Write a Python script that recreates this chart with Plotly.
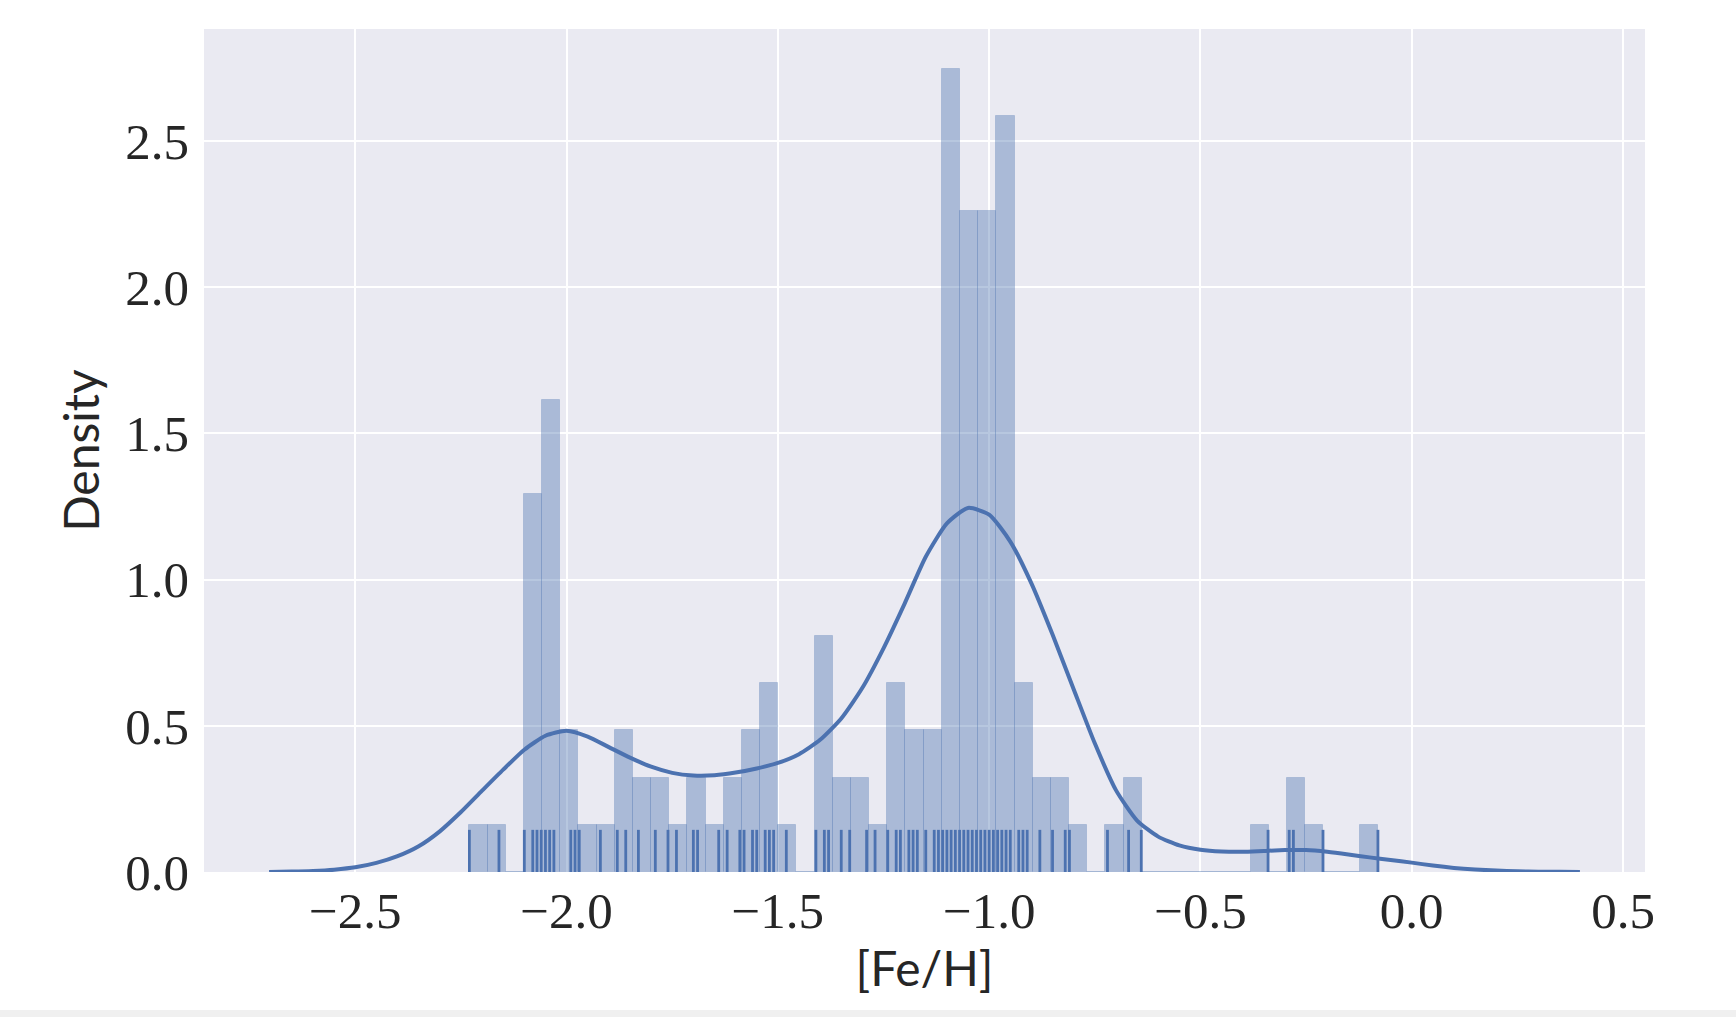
import plotly.graph_objects as go

# ---- data ----
bin_start = -2.23
bin_width = 0.043
n_samples = 144
bin_counts = [1, 1, 0, 8, 10, 3, 1, 1, 3, 2,
              2, 1, 2, 1, 2, 3, 4, 1, 0, 5,
              2, 2, 1, 4, 3, 3, 17, 14, 14, 16,
              4, 2, 2, 1, 0, 1, 2, 0, 0, 0,
              0, 0, 0, 1, 0, 2, 1, 0, 0, 1]

rug_values = [-2.23, -2.16, -2.10, -2.08, -2.07, -2.06, -2.05, -2.04, -2.03,
              -1.99, -1.98, -1.97, -1.92, -1.88, -1.86, -1.83, -1.79, -1.76,
              -1.74, -1.70, -1.69, -1.64, -1.62, -1.59, -1.58, -1.56, -1.55,
              -1.53, -1.52, -1.51, -1.48, -1.41, -1.39, -1.38, -1.35, -1.33,
              -1.29, -1.27, -1.24, -1.22, -1.21, -1.19, -1.18, -1.17, -1.15,
              -1.13, -1.12, -1.11, -1.10, -1.09, -1.08, -1.07, -1.06, -1.05,
              -1.04, -1.03, -1.02, -1.01, -1.00, -0.99, -0.98, -0.97, -0.96,
              -0.95, -0.93, -0.92, -0.91, -0.88, -0.85, -0.82, -0.81, -0.72,
              -0.67, -0.64, -0.34, -0.29, -0.28, -0.21, -0.08]

kde_x = [-2.704, -2.65, -2.60, -2.55, -2.50, -2.45, -2.40, -2.35, -2.30,
         -2.25, -2.20, -2.15, -2.10, -2.05, -2.00, -1.95, -1.90, -1.85,
         -1.80, -1.75, -1.70, -1.65, -1.60, -1.55, -1.50, -1.45, -1.40,
         -1.35, -1.30, -1.25, -1.20, -1.15, -1.10, -1.05, -1.00, -0.95,
         -0.90, -0.85, -0.80, -0.75, -0.70, -0.65, -0.60, -0.55, -0.50,
         -0.45, -0.40, -0.35, -0.30, -0.25, -0.20, -0.15, -0.10, -0.05,
         0.00, 0.05, 0.10, 0.15, 0.20, 0.25, 0.30, 0.35, 0.398]
kde_y = [0.0004, 0.0013, 0.0035, 0.008, 0.016, 0.031, 0.054, 0.088, 0.139,
         0.205, 0.278, 0.350, 0.418, 0.466, 0.483, 0.463, 0.427, 0.391,
         0.360, 0.339, 0.330, 0.331, 0.340, 0.354, 0.373, 0.403, 0.452,
         0.525, 0.630, 0.765, 0.918, 1.078, 1.192, 1.245, 1.222, 1.130,
         0.987, 0.812, 0.625, 0.440, 0.280, 0.176, 0.121, 0.091, 0.076,
         0.070, 0.069, 0.072, 0.075, 0.075, 0.069, 0.060, 0.050, 0.041,
         0.032, 0.022, 0.014, 0.0085, 0.0048, 0.0025, 0.0012, 0.0005, 0.0002]

x_ticks = [-2.5, -2.0, -1.5, -1.0, -0.5, 0.0, 0.5]
y_ticks = [0.0, 0.5, 1.0, 1.5, 2.0, 2.5]
x_label = "[Fe/H]"
y_label = "Density"

# ---- derived ----
bin_centers = [bin_start + bin_width * (i + 0.5) for i in range(len(bin_counts))]
density = [c / (n_samples * bin_width) for c in bin_counts]
y_max = max(density) * 1.05
x_range = [-2.858, 0.552]
rug_h = 0.05 * y_max

BLUE = "#4C72B0"

fig = go.Figure()
fig.add_trace(go.Bar(
    x=bin_centers, y=density, width=bin_width,
    marker=dict(color="rgba(76,114,176,0.4)",
                line=dict(color="rgba(76,114,176,0.25)", width=1)),
    hoverinfo="x+y", showlegend=False))

fig.add_trace(go.Scatter(
    x=kde_x, y=kde_y, mode="lines",
    line=dict(color=BLUE, width=4, shape="spline", smoothing=0.6),
    showlegend=False))

rx, ry = [], []
for v in rug_values:
    rx += [v, v, None]
    ry += [0, rug_h, None]
fig.add_trace(go.Scatter(x=rx, y=ry, mode="lines",
                         line=dict(color=BLUE, width=2.8), showlegend=False,
                         hoverinfo="skip"))

tick_font = dict(family="Liberation Serif, DejaVu Serif, serif", size=51, color="#262626")
label_font = dict(family="Lato, Open Sans, sans-serif", size=48, color="#262626")

fig.update_layout(
    width=1736, height=1017,
    margin=dict(l=204, r=91, t=29, b=145),
    paper_bgcolor="white", plot_bgcolor="#EAEAF2",
    bargap=0, barmode="overlay",
    xaxis=dict(range=x_range, tickvals=x_ticks, tickformat=".1f",
               showgrid=True, gridcolor="white", gridwidth=2,
               zeroline=False, showline=False, ticks="",
               tickfont=tick_font, ticklabelstandoff=4,
               title=dict(text=x_label, font=label_font, standoff=12)),
    yaxis=dict(range=[0, y_max], tickvals=y_ticks, tickformat=".1f",
               showgrid=True, gridcolor="white", gridwidth=2,
               zeroline=False, showline=False, ticks="",
               tickfont=tick_font, ticklabelstandoff=14,
               title=dict(text=y_label, font=label_font, standoff=10)),
    shapes=[dict(type="rect", xref="paper", yref="paper",
                 x0=-0.2, x1=1.1, y0=-0.1722, y1=-0.1637,
                 fillcolor="#F0F0F0", line=dict(width=0), layer="below")],
)

fig.write_html("out.html")
